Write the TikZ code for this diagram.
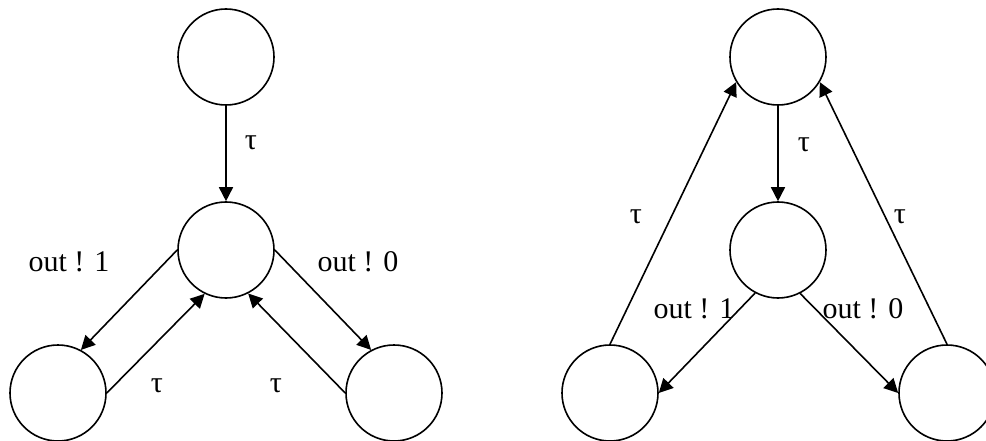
\documentclass[tikz,border=0pt]{standalone}
\usepackage{fontspec}
\setmainfont{Liberation Serif}
\usetikzlibrary{arrows.meta}
\tikzset{
  state/.style={circle,draw,line width=1.6pt,minimum size=96pt,inner sep=0pt},
  trans/.style={line width=1.6pt,-{Triangle[length=14pt,width=14pt]}},
  lbl/.style={font=\fontsize{30}{36}\selectfont,inner sep=0pt,anchor=base}
}
\begin{document}
\begin{tikzpicture}[x=1pt,y=-1pt]
    \useasboundingbox (0,0) rectangle (986,441);
    % left machine
    \node[state] (lt) at (226,57) {};
    \node[state] (lm) at (226,250) {};
    \node[state] (lbl1) at (58,393) {};
    \node[state] (lbr1) at (394,393) {};
    \draw[trans] (lt) -- (lm);
    \draw[trans] (lm.180) -- (lbl1.62);
    \draw[trans] (lbl1.0) -- (lm.244);
    \draw[trans] (lbr1.180) -- (lm.297);
    \draw[trans] (lm.0) -- (lbr1.118);
    \node[lbl] (ltau1) at (251,150) {τ};
    \node[lbl] (lout1) at (69,271) {out ! 1};
    \node[lbl] (lout0) at (358,271) {out ! 0};
    \node[lbl] (ltau2) at (157,392) {τ};
    \node[lbl] (ltau3) at (276,392) {τ};
    % right machine
    \node[state] (rt) at (778,57) {};
    \node[state] (rm) at (778,250) {};
    \node[state] (rbl) at (610,393) {};
    \node[state] (rbr) at (947,393) {};
    \draw[trans] (rt) -- (rm);
    \draw[trans] (rm.242) -- (rbl.0);
    \draw[trans] (rm.297) -- (rbr.180);
    \draw[trans] (rbl.90) -- (rt.211);
    \draw[trans] (rbr.90) -- (rt.329);
    \node[lbl] (rtau1) at (804,152) {τ};
    \node[lbl] (rtau2) at (636,223) {τ};
    \node[lbl] (rtau3) at (900,223) {τ};
    \node[lbl] (rout1) at (694,318) {out ! 1};
    \node[lbl] (rout0) at (863,318) {out ! 0};
\end{tikzpicture}
\end{document}
